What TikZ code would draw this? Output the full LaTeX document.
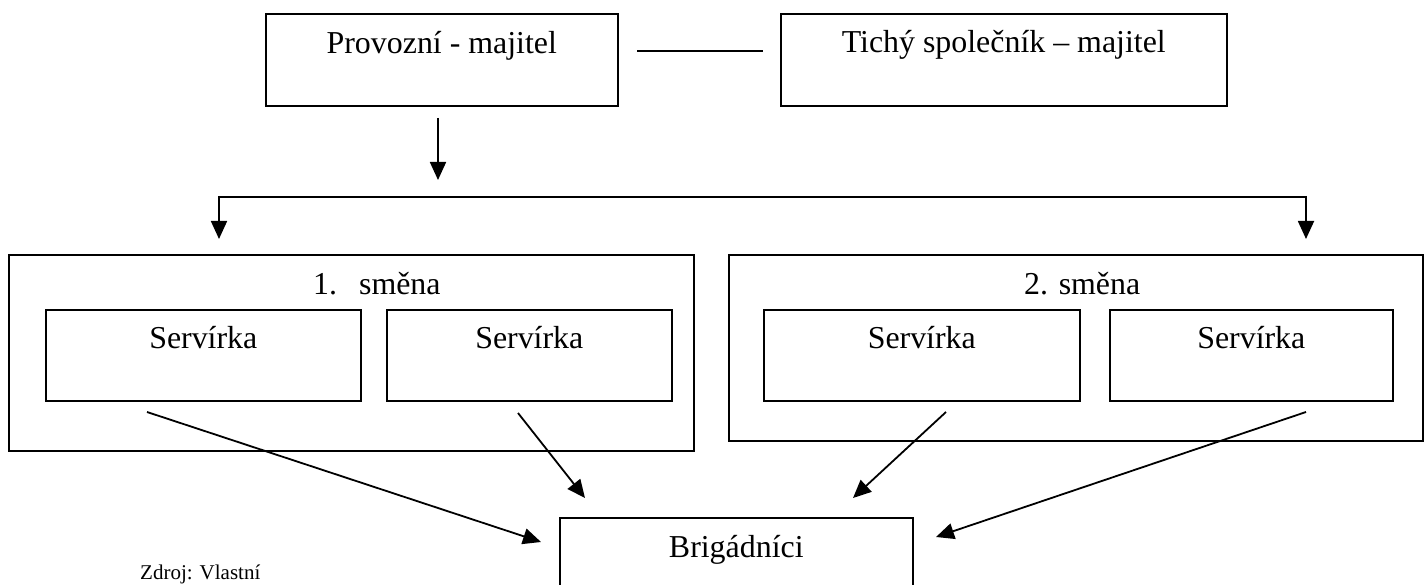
\documentclass[tikz,border=0pt]{standalone}
\usepackage{fontspec}
\setmainfont{Liberation Serif}
\usetikzlibrary{arrows.meta}
\begin{document}
\begin{tikzpicture}[x=1pt,y=-1pt,
  box/.style={draw, line width=1.6pt, inner sep=0pt, anchor=north west,
    font=\fontsize{31.9pt}{38pt}\selectfont},
  ttl/.style={inner sep=0pt, anchor=base west, font=\fontsize{31.9pt}{38pt}\selectfont},
  conn/.style={line width=1.8pt},
  arr/.style={line width=1.8pt, -{Triangle[length=18pt,width=16pt]}}]
\path[use as bounding box] (0,0) rectangle (1425,585);
\clip (0,0) rectangle (1425,585);
% top row
\node[box, minimum width=352pt, text height=40pt, text depth=52pt] (prov) at (265,13) {Provozní - majitel};
\node[box, minimum width=446pt, text height=39pt, text depth=53pt] (tichy) at (780,13) {Tichý společník – majitel};
% shifts
\node[box, minimum width=685pt, minimum height=196pt] (shift1) at (8,254) {};
\node[box, minimum width=694pt, minimum height=186pt] (shift2) at (728,254) {};
\node[ttl] (t1) at (313,295) {1.\hspace{22pt}směna};
\node[ttl] (t2) at (1024,295) {2. směna};
\node[box, minimum width=315pt, text height=39pt, text depth=52pt] (s1) at (45,309) {Servírka};
\node[box, minimum width=285pt, text height=39pt, text depth=52pt] (s2) at (386,309) {Servírka};
\node[box, minimum width=316pt, text height=39pt, text depth=52pt] (s3) at (763,309) {Servírka};
\node[box, minimum width=283pt, text height=39pt, text depth=52pt] (s4) at (1109,309) {Servírka};
\node[box, minimum width=353pt, text height=40pt, text depth=60pt] (brig) at (559,517) {Brigádníci};
\node[ttl, font=\fontsize{21pt}{25pt}\selectfont] (src) at (140,579) {Zdroj: Vlastní};
% connector coordinates
\coordinate (la) at (637,51);
\coordinate (lb) at (763,51);
\coordinate (d0) at (438,118);
\coordinate (d1) at (438,180);
\coordinate (bl) at (219,239);
\coordinate (br) at (1306,239);
\coordinate (a1s) at (147,412);
\coordinate (a1e) at (541,542);
\coordinate (a2s) at (518,413);
\coordinate (a2e) at (585,498);
\coordinate (a3s) at (946,412);
\coordinate (a3e) at (853,498);
\coordinate (a4s) at (1306,412);
\coordinate (a4e) at (936,537);
% connectors
\draw[conn] (la) -- (lb);
\draw[arr] (d0) -- (d1);
\draw[conn] (bl |- 0,197) -- (br |- 0,197);
\draw[arr] (bl |- 0,196) -- (bl);
\draw[arr] (br |- 0,196) -- (br);
\draw[arr] (a1s) -- (a1e);
\draw[arr] (a2s) -- (a2e);
\draw[arr] (a3s) -- (a3e);
\draw[arr] (a4s) -- (a4e);
\end{tikzpicture}
\end{document}
